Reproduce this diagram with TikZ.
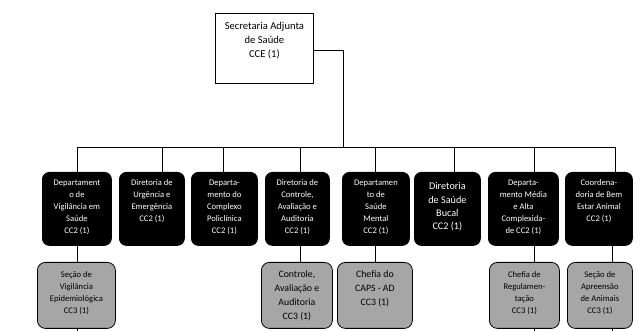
\documentclass[tikz,border=0pt]{standalone}
\usepackage{fontspec}
\setmainfont{Carlito}
\definecolor{grayfill}{RGB}{166,166,166}
\begin{document}
\begin{tikzpicture}[x=1pt,y=1pt,
  blk/.style={fill=black, draw=black, rounded corners=7pt, line width=0.8pt, inner sep=0pt, anchor=north west, minimum height=73pt},
  gry/.style={fill=grayfill, draw=black, rounded corners=8pt, line width=0.8pt, inner sep=0pt, anchor=north west, minimum height=66pt},
  headbox/.style={fill=white, draw=black, line width=0.8pt, inner sep=0pt, anchor=north west, minimum width=98pt, minimum height=70pt},
  wtxt/.style={align=center, inner sep=0pt, anchor=north, text=white, font=\fontsize{8.6}{12}\selectfont},
  wbig/.style={align=center, inner sep=0pt, anchor=north, text=white, font=\fontsize{10.2}{13.2}\selectfont},
  ktxt/.style={align=center, inner sep=0pt, anchor=north, text=black, font=\fontsize{8.6}{12}\selectfont},
  kmid/.style={align=center, inner sep=0pt, anchor=north, text=black, font=\fontsize{9.8}{14}\selectfont},
  khead/.style={align=center, inner sep=0pt, anchor=north, text=black, font=\fontsize{10.6}{14}\selectfont},
  conn/.style={draw=black, line width=0.8pt}
]
\useasboundingbox (0,0) rectangle (641,331);

% top box
\node[headbox] (sa) at (215,318) {};
\node[khead] (sat) at ([yshift=-6.2pt]sa.north) {\rule{0pt}{10pt}Secretaria Adjunta\\de Saúde\\CCE (1)};

% black boxes
\node[blk, minimum width=69pt] (b1) at (42,159) {};
\node[blk, minimum width=65pt] (b2) at (119,159) {};
\node[blk, minimum width=66pt] (b3) at (191,159) {};
\node[blk, minimum width=64pt] (b4) at (265,159) {};
\node[blk, minimum width=67pt] (b5) at (342,159) {};
\node[blk, minimum width=66pt] (b6) at (414,159) {};
\node[blk, minimum width=70pt] (b7) at (488,159) {};
\node[blk, minimum width=67pt] (b8) at (565,159) {};

\node[wtxt] (t1) at ([yshift=-5.6pt]b1.north) {\rule{0pt}{8pt}Departament\\o de\\Vigilância em\\Saúde\\CC2 (1)};
\node[wtxt] (t2) at ([yshift=-5.6pt]b2.north) {\rule{0pt}{8pt}Diretoria de\\Urgência e\\Emergência\\CC2 (1)};
\node[wtxt] (t3) at ([yshift=-5.6pt]b3.north) {\rule{0pt}{8pt}Departa-\\mento do\\Complexo\\Policlínica\\CC2 (1)};
\node[wtxt] (t4) at ([yshift=-5.6pt]b4.north) {\rule{0pt}{8pt}Diretoria de\\Controle,\\Avaliação e\\Auditoria\\CC2 (1)};
\node[wtxt] (t5) at ([yshift=-5.6pt]b5.north) {\rule{0pt}{8pt}Departamen\\to de\\Saúde\\Mental\\CC2 (1)};
\node[wbig] (t6) at ([yshift=-7.7pt]b6.north) {\rule{0pt}{10pt}Diretoria\\de Saúde\\Bucal\\CC2 (1)};
\node[wtxt] (t7) at ([yshift=-5.6pt]b7.north) {\rule{0pt}{8pt}Departa-\\mento Média\\e Alta\\Complexida-\\de CC2 (1)};
\node[wtxt] (t8) at ([yshift=-5.6pt]b8.north) {\rule{0pt}{8pt}Coordena-\\doria de Bem\\Estar Animal\\CC2 (1)};

% gray boxes
\node[gry, minimum width=78pt] (g1) at (37,69) {};
\node[gry, minimum width=71pt] (g4) at (261,69) {};
\node[gry, minimum width=75pt] (g5) at (337,69) {};
\node[gry, minimum width=70pt] (g7) at (489,69) {};
\node[gry, minimum width=65pt] (g8) at (567,69) {};

\node[ktxt] (u1) at ([yshift=-7.6pt]g1.north) {\rule{0pt}{8pt}Seção de\\Vigilância\\Epidemiológica\\CC3 (1)};
\node[kmid] (u4) at ([yshift=-6pt]g4.north) {\rule{0pt}{9pt}Controle,\\Avaliação e\\Auditoria\\CC3 (1)};
\node[kmid] (u5) at ([yshift=-6pt]g5.north) {\rule{0pt}{9pt}Chefia do\\CAPS - AD\\CC3 (1)};
\node[ktxt] (u7) at ([yshift=-7.6pt]g7.north) {\rule{0pt}{8pt}Chefia de\\Regulamen-\\tação\\CC3 (1)};
\node[ktxt] (u8) at ([yshift=-7.6pt]g8.north) {\rule{0pt}{8pt}Seção de\\Apreensão\\de Animais\\CC3 (1)};

% bus coordinates
\coordinate (bj) at (343,184);
\coordinate (d1) at (77,184);
\coordinate (d2) at (162,184);
\coordinate (d3) at (223,184);
\coordinate (d4) at (300,184);
\coordinate (d5) at (375,184);
\coordinate (d6) at (454,184);
\coordinate (d7) at (534,184);
\coordinate (d8) at (615,184);
\coordinate (e8) at (612,184);
\coordinate (bot) at (0,0);

% connectors
\draw[conn] ([yshift=-2pt]sa.east) -| (bj);
\draw[conn] (d1) -- (d8);
\foreach \i in {1,...,8} {
  \draw[conn] (d\i) -- (d\i |- b\i.north);
}
\draw[conn] (b1.south -| d1) -- (g1.north -| d1);
\draw[conn] (b4.south -| d4) -- (g4.north -| d4);
\draw[conn] (b5.south -| d5) -- (g5.north -| d5);
\draw[conn] (b7.south -| d7) -- (g7.north -| d7);
\draw[conn] (b8.south -| e8) -- (g8.north -| e8);
\draw[conn] (g1.south -| d1) -- (d1 |- bot);
\draw[conn] (g7.south -| d7) -- (d7 |- bot);
\draw[conn] (g8.south -| e8) -- (e8 |- bot);
\end{tikzpicture}
\end{document}
